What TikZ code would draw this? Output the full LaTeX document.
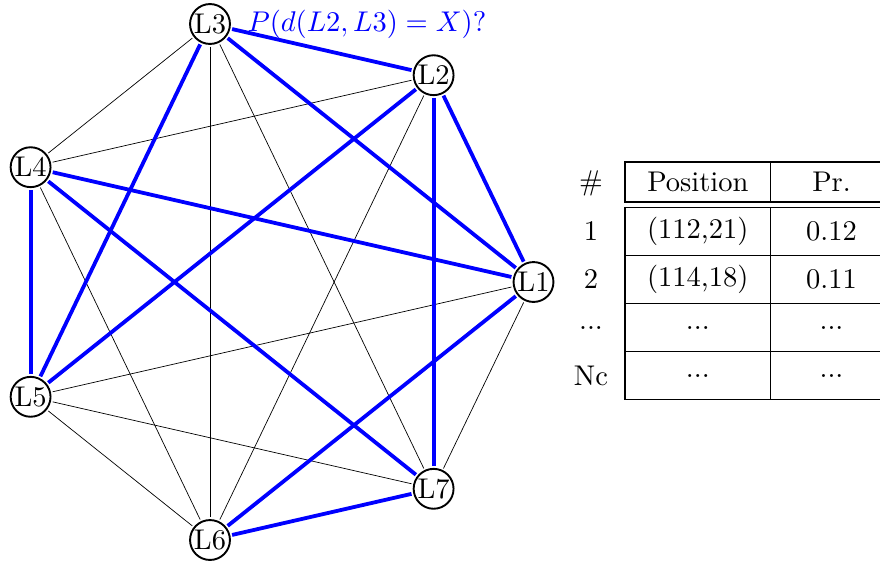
\documentclass[tikz,border=0pt]{standalone}
\usetikzlibrary{calc}
\begin{document}
\begin{tikzpicture}[x=1pt,y=-1pt,
  every node/.append style={scale=2.85},
  vert/.style={circle,draw,line width=1.9pt,fill=white,minimum size=14.0pt,inner sep=0pt},
  bl/.style={blue,line width=3.8pt},
  bk/.style={black,line width=0.7pt},
  cell/.style={draw,line width=1.2pt,inner sep=0pt,minimum height=#1},
  cella/.style={cell=16.84pt,minimum width=51.05pt},
  cellb/.style={cell=16.84pt,minimum width=42.8pt},
  lab/.style={inner sep=0pt}]
\useasboundingbox (0,0) rectangle (880,565);
\clip (0,0) rectangle (880,565);
% vertices
\node[vert] (L1) at (533.5,282) {L1};
\node[vert] (L2) at (433.6,75.2) {L2};
\node[vert] (L3) at (210,24) {L3};
\node[vert] (L4) at (30.6,167.2) {L4};
\node[vert] (L5) at (30.6,396.8) {L5};
\node[vert] (L6) at (210,540) {L6};
\node[vert] (L7) at (433.6,488.8) {L7};
% thin edges
\draw[bk] (L3) -- (L4);
\draw[bk] (L3) -- (L6);
\draw[bk] (L3) -- (L7);
\draw[bk] (L2) -- (L4);
\draw[bk] (L2) -- (L6);
\draw[bk] (L4) -- (L6);
\draw[bk] (L5) -- (L1);
\draw[bk] (L5) -- (L7);
\draw[bk] (L5) -- (L6);
\draw[bk] (L1) -- (L7);
% blue edges
\draw[bl] (L3) -- (L2);
\draw[bl] (L3) -- (L1);
\draw[bl] (L3) -- (L5);
\draw[bl] (L2) -- (L1);
\draw[bl] (L2) -- (L7);
\draw[bl] (L2) -- (L5);
\draw[bl] (L4) -- (L1);
\draw[bl] (L4) -- (L5);
\draw[bl] (L4) -- (L7);
\draw[bl] (L1) -- (L6);
\draw[bl] (L7) -- (L6);
% question label
\node[lab,blue,anchor=base west] (q) at (247,31) {$P(d(L2,L3)=X)?$};
% table header
\node[lab] (h0) at (591,183) {\#};
\node[cell=14.04pt,minimum width=51.05pt] (h1) at (697.8,182) {Position};
\node[cell=14.04pt,minimum width=42.8pt] (h2) at (831.5,182) {Pr.};
% rows
\node[lab] (r10) at (591,231) {1};
\node[cella] (r11) at (697.8,231.5) {(112,21)};
\node[cellb] (r12) at (831.5,231.5) {0.12};
\node[lab] (r20) at (591,279) {2};
\node[cella] (r21) at (697.8,279.5) {(114,18)};
\node[cellb] (r22) at (831.5,279.5) {0.11};
\node[lab] (r30) at (591,328) {...};
\node[cella] (r31) at (697.8,327.5) {...};
\node[cellb] (r32) at (831.5,327.5) {...};
\node[lab] (r40) at (591,376) {Nc};
\node[cella] (r41) at (697.8,375.5) {...};
\node[cellb] (r42) at (831.5,375.5) {...};
\end{tikzpicture}
\end{document}
